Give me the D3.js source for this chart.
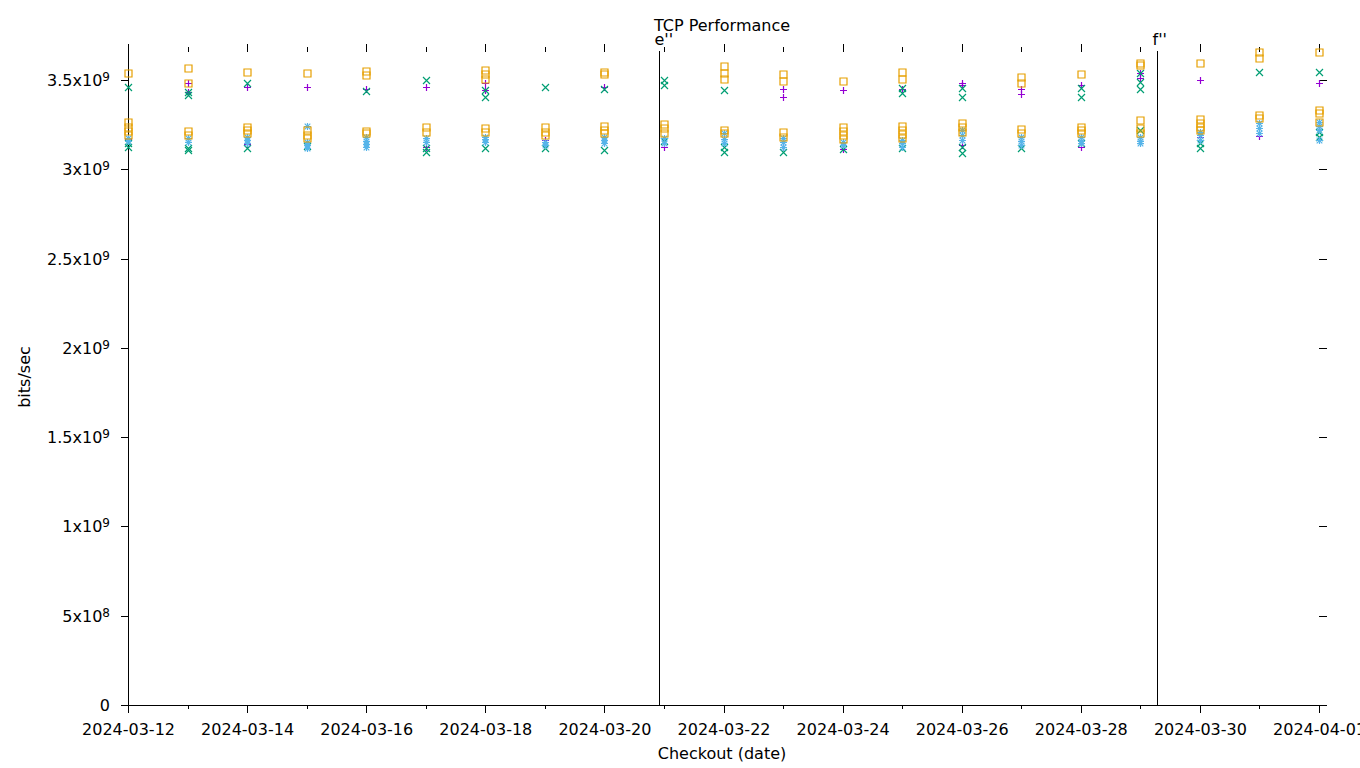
<!DOCTYPE html>
<html><head><meta charset="utf-8">
<script src="https://cdn.jsdelivr.net/npm/d3@7"></script>
<style>
body{margin:0;background:#fff;}
text{font-family:"DejaVu Sans",sans-serif;font-size:16px;fill:#000;}
</style></head>
<body><svg id="c" width="1360" height="768"></svg>
<script>
const dates = ["2024-03-12","2024-03-13","2024-03-14","2024-03-15","2024-03-16","2024-03-17","2024-03-18",
  "2024-03-19","2024-03-20","2024-03-21","2024-03-22","2024-03-23","2024-03-24","2024-03-25","2024-03-26",
  "2024-03-27","2024-03-28","2024-03-29","2024-03-30","2024-03-31","2024-04-01"];
const majorTickDates = ["2024-03-12","2024-03-14","2024-03-16","2024-03-18","2024-03-20","2024-03-22",
  "2024-03-24","2024-03-26","2024-03-28","2024-03-30","2024-04-01"];
const yTicks = [0,5e8,1e9,1.5e9,2e9,2.5e9,3e9,3.5e9];
const yTickLabels = ["0","5x10^8","1x10^9","1.5x10^9","2x10^9","2.5x10^9","3x10^9","3.5x10^9"];
const markers = [{label:"e''", date:"2024-03-20T22:00"},{label:"f''", date:"2024-03-29T06:40"}];

// values in bits/sec (x1e9), one list per checkout date
const purpleVals = [[3.169],[3.484,3.434],[3.459,3.141],[3.459],[3.447],[3.462,3.123],[3.481,3.443],[3.164],
  [3.462,3.164],[3.126],[],[3.451,3.406,3.126],[3.443,3.115],[3.447],[3.481,3.471,3.135],[3.447,3.419,3.135],
  [3.471,3.126],[3.537,3.509],[3.499,3.182],[3.186],[3.481,3.24]];
const greenVals = [[3.459,3.147,3.124],[3.434,3.415,3.12,3.107],[3.484,3.119],[3.13],[3.438],[3.499,3.119,3.098],
  [3.443,3.403,3.117],[3.459,3.117],[3.447,3.107],[3.499,3.471,3.16],[3.443,3.126,3.098],[3.098],[3.115],
  [3.453,3.425,3.117],[3.453,3.406,3.126,3.089],[3.117],[3.453,3.406,3.145],[3.537,3.49,3.447,3.219],
  [3.145,3.117],[3.546],[3.546,3.21,3.182]];
const blueVals = [[3.175,3.16],[3.175,3.152],[3.18,3.163,3.147],[3.242,3.152,3.135,3.119],[3.18,3.16,3.14,3.124],
  [3.175,3.152],[3.182,3.168,3.154],[3.154,3.135],[3.18,3.163,3.145],[3.173,3.145],[3.2,3.17,3.147],
  [3.175,3.15,3.126],[3.154,3.135],[3.164,3.145,3.126],[3.22,3.19,3.164],[3.182,3.16,3.135],[3.182,3.16,3.145],
  [3.182,3.16,3.145],[3.21,3.19,3.164],[3.257,3.23,3.201],[3.266,3.24,3.219,3.164]];
const orangeVals = [[3.537,3.266,3.236,3.214,3.191],[3.565,3.481,3.216,3.191],[3.543,3.235,3.219,3.201],
  [3.537,3.219,3.191,3.173],[3.548,3.529,3.216,3.205],[3.235,3.21],[3.555,3.533,3.503,3.229,3.21],
  [3.235,3.21,3.191],[3.546,3.533,3.242,3.219,3.201],[3.253,3.229,3.205],[3.578,3.54,3.503,3.219,3.201],
  [3.531,3.492,3.21,3.182],[3.492,3.235,3.216,3.191,3.167],[3.546,3.503,3.242,3.219,3.196,3.173],
  [3.261,3.235,3.21],[3.518,3.484,3.225,3.201],[3.531,3.238,3.219,3.201],[3.593,3.583,3.276,3.229,3.201],
  [3.593,3.279,3.257,3.238,3.219],[3.658,3.621,3.303,3.285],[3.654,3.331,3.313,3.266]];

const series = [
  {vals:purpleVals, color:"#9400d3", shape:"plus"},
  {vals:greenVals, color:"#009e73", shape:"cross"},
  {vals:blueVals, color:"#56b4e9", shape:"star"},
  {vals:orangeVals, color:"#e69f00", shape:"square"}
];

const parseDay = d3.timeParse("%Y-%m-%d");
const parseDT = d3.timeParse("%Y-%m-%dT%H:%M");
const L=128, R=1319, T=51.7, B=705;
const x = d3.scaleTime().domain([parseDay(dates[0]), parseDay(dates[dates.length-1])]).range([L,R]);
const yMax = d3.max(series.flatMap(s=>s.vals.flat()))*1e9;
const y = d3.scaleLinear().domain([0,yMax]).range([B,T]);

const svg = d3.select("#c");
const g = svg.append("g");

// title
g.append("text").attr("x",722).attr("y",30.5).attr("text-anchor","middle").text("TCP Performance");

// axes
const allDays = dates.map(parseDay);
const majors = majorTickDates.map(parseDay);
const minors = allDays.filter(d=>!majors.some(m=>+m===+d));
const fmt = d3.timeFormat("%Y-%m-%d");

const xb = g.append("g").attr("transform",`translate(0,${B})`)
  .call(d3.axisBottom(x).tickValues(majors).tickSize(7.5).tickFormat(fmt));
xb.select(".domain").remove();
xb.selectAll("text").attr("dy",null).attr("y",30).style("font-size","16px").style("font-family","DejaVu Sans");
const xbm = g.append("g").attr("transform",`translate(0,${B})`)
  .call(d3.axisBottom(x).tickValues(minors).tickSize(4.4).tickFormat(""));
xbm.select(".domain").remove();

const xt = g.append("g").attr("transform",`translate(0,${T})`)
  .call(d3.axisTop(x).tickValues(majors).tickSize(7.5).tickFormat(""));
xt.select(".domain").remove();
const xtm = g.append("g").attr("transform",`translate(0,${T})`)
  .call(d3.axisTop(x).tickValues(minors).tickSize(4.4).tickFormat(""));
xtm.select(".domain").remove();

const yl = g.append("g").attr("transform",`translate(${L},0)`)
  .call(d3.axisLeft(y).tickValues(yTicks).tickSize(7).tickFormat((d,i)=>""));
yl.select(".domain").remove();
yl.selectAll(".tick").each(function(d,i){
  const lab = yTickLabels[i].split("^");
  const t = d3.select(this).append("text").attr("x",-18).attr("y",5.5).attr("text-anchor","end")
    .style("font-size","16px").style("font-family","DejaVu Sans").attr("fill","#000");
  t.append("tspan").text(lab[0]);
  if(lab[1]) t.append("tspan").attr("dy",-5).style("font-size","12px").text(lab[1]);
});
const yr = g.append("g").attr("transform",`translate(${R},0)`)
  .call(d3.axisRight(y).tickValues(yTicks).tickSize(8).tickFormat(""));
yr.select(".domain").remove();

g.selectAll(".tick line").attr("stroke","#000").attr("shape-rendering","crispEdges");

// borders
g.append("line").attr("x1",L).attr("x2",L).attr("y1",T).attr("y2",B).attr("stroke","#000").attr("shape-rendering","crispEdges");
g.append("line").attr("x1",L).attr("x2",R).attr("y1",B).attr("y2",B).attr("stroke","#000").attr("shape-rendering","crispEdges");

// axis titles
g.append("text").attr("transform","translate(30,377) rotate(-90)").attr("text-anchor","middle").text("bits/sec");
g.append("text").attr("x",722).attr("y",759).attr("text-anchor","middle").text("Checkout (date)");

// event markers
markers.forEach(m=>{
  const xx = Math.round(x(parseDT(m.date)))+0.5;
  g.append("line").attr("x1",xx).attr("x2",xx).attr("y1",T-1).attr("y2",B).attr("stroke","#000").attr("shape-rendering","crispEdges");
  g.append("text").attr("x",xx-5).attr("y",45).text(m.label);
});

// points
const h=3.5;
const shapes = {
  plus:`M${-h},0H${h}M0,${-h}V${h}`,
  cross:`M${-h},${-h}L${h},${h}M${-h},${h}L${h},${-h}`,
  star:`M${-h},0H${h}M0,${-h}V${h}M${-h*0.8},${-h*0.8}L${h*0.8},${h*0.8}M${-h*0.8},${h*0.8}L${h*0.8},${-h*0.8}`,
  square:`M${-h},${-h}H${h}V${h}H${-h}Z`
};
series.forEach(s=>{
  const pts = [];
  s.vals.forEach((vs,i)=>vs.forEach(v=>pts.push({d:allDays[i], v:v*1e9})));
  g.append("g").selectAll("path").data(pts).join("path")
    .attr("transform",d=>`translate(${Math.round(x(d.d))+0.5},${Math.round(y(d.v))+0.5})`)
    .attr("d",shapes[s.shape]).attr("fill","none").attr("stroke",s.color).attr("stroke-width",1.2);
});
</script></body></html>
